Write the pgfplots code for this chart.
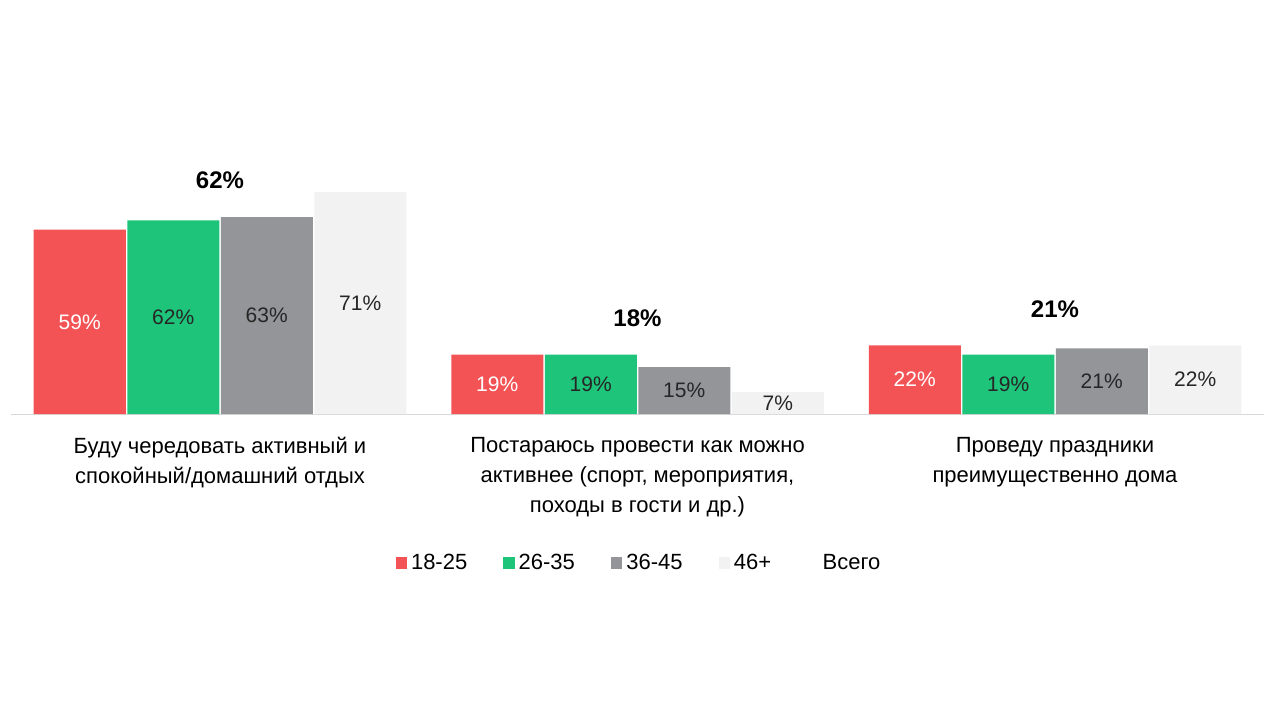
\documentclass[border=0pt]{standalone}
\usepackage{pgfplots}
\pgfplotsset{compat=1.18}
\usepackage{fontspec}
\setmainfont{Liberation Sans}
\definecolor{cr}{HTML}{F45356}
\definecolor{cg}{HTML}{1DC47A}
\definecolor{cy}{HTML}{939598}
\definecolor{cl}{HTML}{F2F2F2}
\begin{document}
\begin{tikzpicture}
\path (0,0) rectangle (640pt,360pt);
\begin{axis}[
  at={(5.625pt,153pt)}, anchor=south west,
  scale only axis, width=626.25pt, height=125pt,
  xmin=-0.5, xmax=2.5, ymin=0, ymax=80,
  ybar, bar width=46pt,
  axis y line=none, axis x line=bottom, x axis line style={draw=black!15, -},
  xtick={0,1,2}, major tick length=0pt,
  xticklabels={{Буду чередовать активный и\\спокойный/домашний отдых},
               {Постараюсь провести как можно\\активнее (спорт, мероприятия,\\походы в гости и др.)},
               {Проведу праздники\\преимущественно дома}},
  xticklabel style={align=center, font=\fontsize{11}{15}\selectfont, yshift=-8pt},
  /pgf/number format/assume math mode=true,
  visualization depends on={y/2 \as \half},
  nodes near coords={\pgfmathprintnumber{\pgfplotspointmeta}\%},
  every node near coord/.append style={anchor=center, font=\fontsize{10.5}{12}\selectfont,
     shift={(axis direction cs:0,-\half)}},
  legend columns=5,
  legend style={at={(0.502,-0.596)}, anchor=center, draw=none, font=\fontsize{11}{13}\selectfont,
    /tikz/every even column/.append style={column sep=16pt}},
  legend image code/.code={\fill[#1] (0cm,-0.1cm) rectangle (0.2cm,0.1cm);},
]
\addplot[fill=cr, draw=none, bar shift=-70.125pt, every node near coord/.append style={text=white}] coordinates {(0,59) (1,19) (2,22)};
\addplot[fill=cg, draw=none, bar shift=-23.375pt, every node near coord/.append style={text=black!85}] coordinates {(0,62) (1,19) (2,19)};
\addplot[fill=cy, draw=none, bar shift=23.375pt, every node near coord/.append style={text=black!85}] coordinates {(0,63) (1,15) (2,21)};
\addplot[fill=cl, draw=none, bar shift=70.125pt, every node near coord/.append style={text=black!85}] coordinates {(0,71) (1,7) (2,22)};
\addplot[fill=white, fill opacity=0, text opacity=1, draw=none, bar shift=0pt,
  visualization depends on={0 \as \half},
  every node near coord/.append style={anchor=south, yshift=12pt, font=\bfseries\fontsize{12}{14}\selectfont, text=black}] coordinates {(0,62) (1,18) (2,21)};
\legend{18-25,26-35,36-45,46+,Всего}
\end{axis}
\end{tikzpicture}
\end{document}
